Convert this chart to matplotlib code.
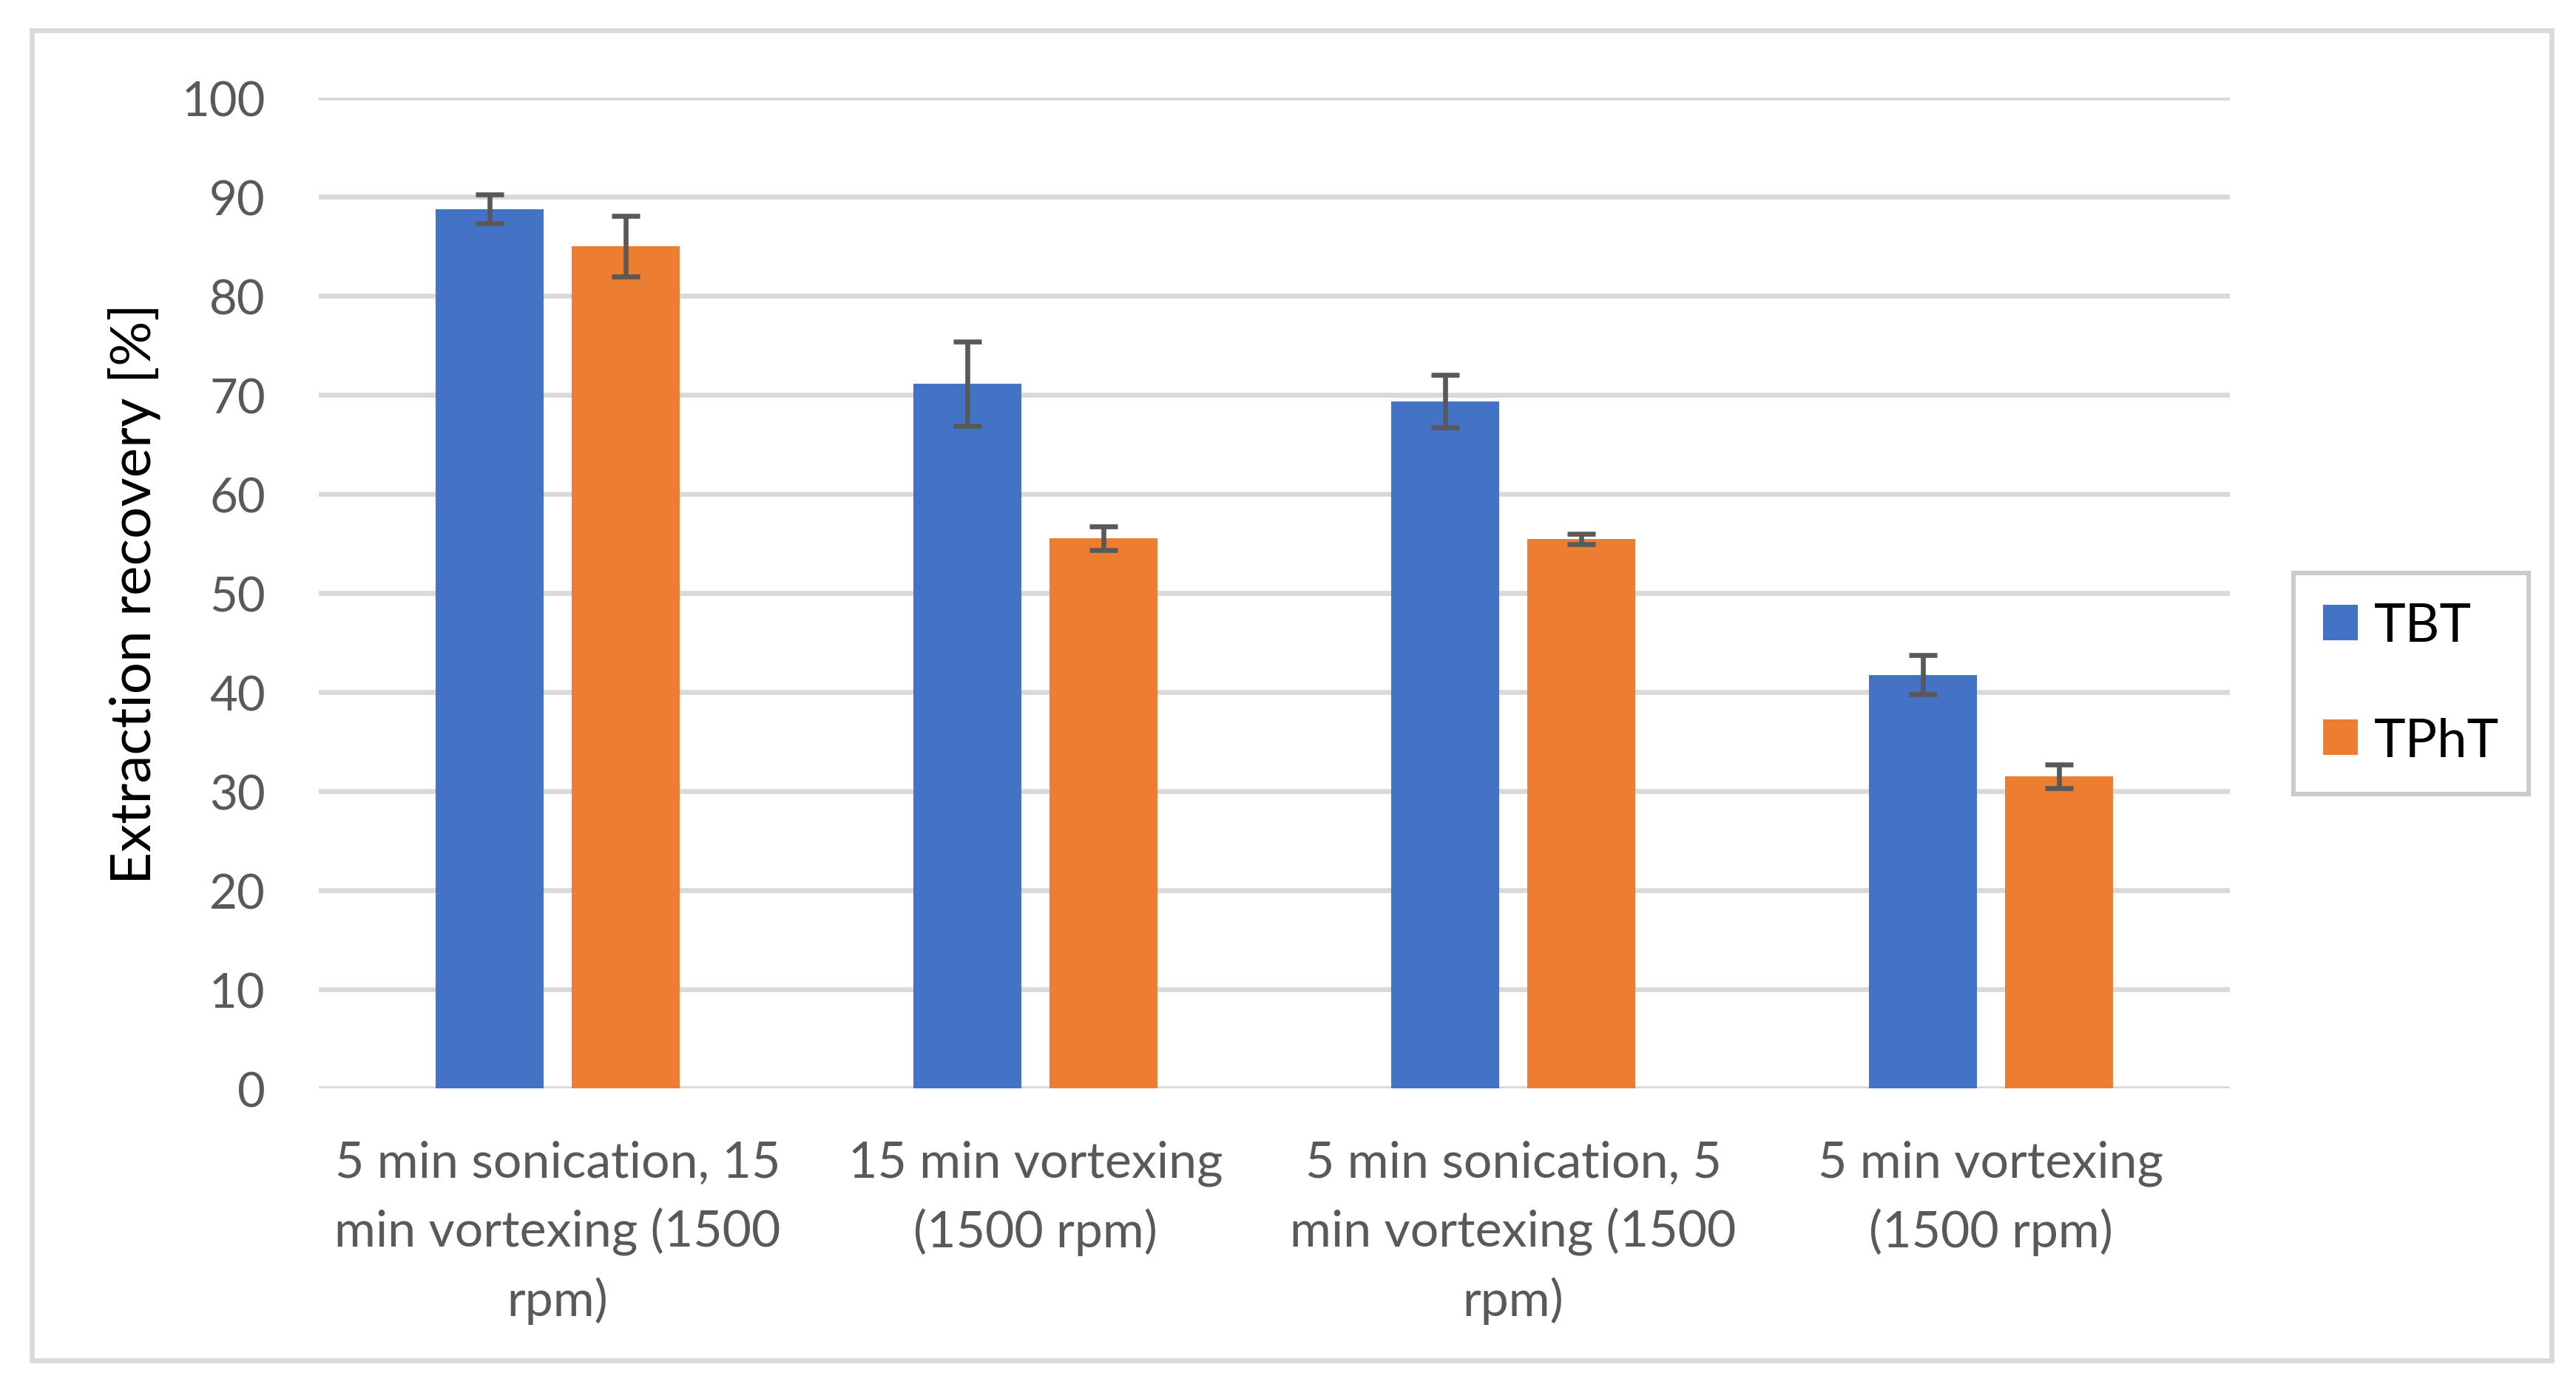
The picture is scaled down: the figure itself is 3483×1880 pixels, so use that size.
import matplotlib
matplotlib.use('Agg')
import matplotlib.pyplot as plt
import numpy as np
from matplotlib.patches import FancyBboxPatch

plt.rcParams['font.family'] = ['Lato', 'DejaVu Sans']

# data
categories = ['5 min sonication, 15\nmin vortexing (1500\nrpm)',
              '15 min vortexing\n(1500 rpm)',
              '5 min sonication, 5\nmin vortexing (1500\nrpm)',
              '5 min vortexing\n(1500 rpm)']
series = ['TBT', 'TPhT']
tbt = [88.75, 71.1, 69.35, 41.75]
tbt_err = [1.45, 4.25, 2.65, 1.95]
tpht = [85.0, 55.55, 55.45, 31.5]
tpht_err = [3.05, 1.2, 0.55, 1.2]
colors = ['#4472C4', '#ED7D31']

W, H = 3483, 1881
fig = plt.figure(figsize=(W / 200, H / 200), dpi=200)
ax = fig.add_axes([431 / W, 1 - 1473 / H, (3015 - 431) / W, (1473 - 133) / H])

x = np.arange(len(categories))
width = 0.226
off = 0.1425
err_kw = dict(ecolor='#595959', elinewidth=2.4, capsize=7, capthick=2.4)
ax.bar(x - off, tbt, width, yerr=tbt_err, color=colors[0], label=series[0],
       error_kw=err_kw, zorder=3)
ax.bar(x + off, tpht, width, yerr=tpht_err, color=colors[1], label=series[1],
       error_kw=err_kw, zorder=3)

ax.set_xlim(-0.5, len(categories) - 0.5)
ax.set_ylim(0, 100)
ax.set_yticks(np.arange(0, 101, 10))
ax.yaxis.grid(True, color='#D9D9D9', linewidth=2.4)
ax.set_axisbelow(True)
for s in ax.spines.values():
    s.set_visible(False)
ax.tick_params(axis='both', length=0, labelcolor='#595959')
ax.tick_params(axis='y', pad=26, labelsize=23.5)
ax.tick_params(axis='x', pad=25, labelsize=24.5)
ax.set_xticks(x)
ax.set_xticklabels(categories, linespacing=1.55)
ax.set_ylabel('Extraction recovery [%]', fontsize=27.5, color='black', labelpad=10)

fig.legend(loc='center', bbox_to_anchor=(0.936, 0.508), fontsize=26,
           frameon=True, fancybox=False, edgecolor='#BFBFBF',
           handlelength=0.65, handleheight=0.65, handletextpad=0.3,
           labelspacing=1.25, borderpad=0.55)
leg = fig.legends[0]
leg.get_frame().set_linewidth(2.2)

# outer chart border
fig.patches.append(FancyBboxPatch((43 / W, 1 - 1841 / H), (3450 - 43) / W,
                                  (1841 - 42) / H, boxstyle='square,pad=0',
                                  transform=fig.transFigure, fill=False,
                                  edgecolor='#D9D9D9', linewidth=2.4))

plt.savefig('out.png', dpi=200)
plt.close()
